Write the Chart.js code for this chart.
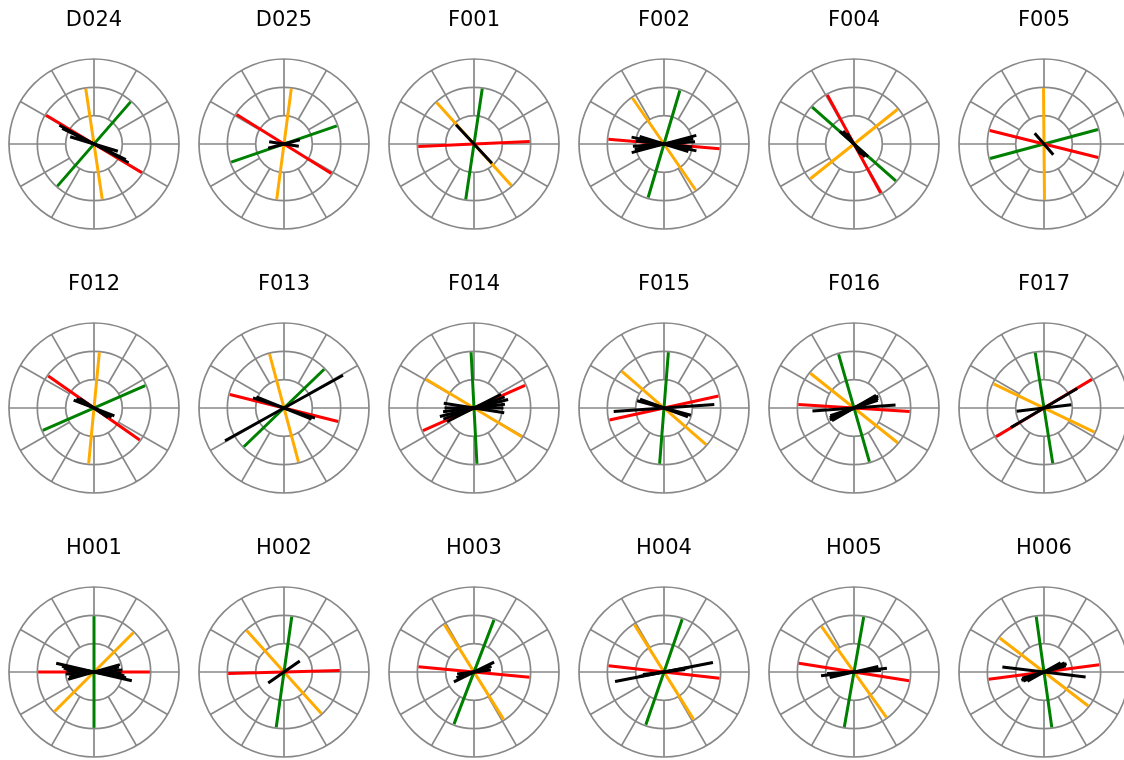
<!DOCTYPE html>
<html>
<head>
<meta charset="utf-8">
<script src="https://cdn.jsdelivr.net/npm/chart.js@4"></script>
<style>
  html, body { margin: 0; padding: 0; background: #ffffff; overflow: hidden; }
  #board { position: relative; width: 1124px; height: 760px; overflow: hidden; }
  #board canvas { position: absolute; }
</style>
</head>
<body>
<div id="board"></div>
<script>
// Station names, one rose diagram each (3 rows x 6 columns)
const stations = ['D024', 'D025', 'F001', 'F002', 'F004', 'F005',
                  'F012', 'F013', 'F014', 'F015', 'F016', 'F017',
                  'H001', 'H002', 'H003', 'H004', 'H005', 'H006'];

// Axial directions, degrees clockwise from north (0-180)
const orangeAzimuth = [171.5, 7.5, 138, 145.5, 51.5, 179.5, 5.5, 165, 121, 131, 128.5, 115.5, 45, 138, 148, 148, 144.5, 127.5];
const greenAzimuth  = [41, 71, 8.5, 16.5, 131.5, 75, 66.5, 46, 177, 4.5, 164, 171, 0, 8, 21, 19, 10, 172];
const redAzimuth    = [121, 122, 87.5, 95, 151.5, 104, 125, 104, 66, 77.5, 93.5, 59, 90, 88.5, 95.5, 96.5, 99, 82.5];
const referenceLength = [1.97, 1.97, 1.97, 1.97, 1.97, 1.97, 1.97, 1.97, 1.97, 1.97, 1.97, 1.97, 1.97, 1.97, 1.97, 1.97, 1.97, 1.97];

// Individual measurements per station: direction and magnitude
const blackAzimuth = [
  [118.5, 116, 107, 112],
  [75, 99],
  [137],
  [75, 80, 86, 96, 102, 107],
  [132, 140, 147],
  [139],
  [111, 118, 124],
  [61, 108, 112],
  [63, 70, 76, 83, 90, 99],
  [86, 105, 110],
  [86, 60, 64, 68, 72],
  [59.5, 83],
  [74, 79, 86, 93, 97, 100, 103],
  [55],
  [64, 72, 78, 83],
  [79, 80, 83],
  [83.5, 77, 87],
  [97, 61, 66, 70, 74]
];
const blackLength = [
  [1.39, 1.25, 0.88, 0.7],
  [0.58, 0.53],
  [0.93],
  [1.18, 1.05, 1.1, 1.0, 1.17, 0.9],
  [0.67, 0.6, 0.45],
  [0.5],
  [0.77, 0.7, 0.6],
  [2.38, 1.15, 1.05],
  [1.07, 1.15, 1.24, 1.1, 1.04, 1.08],
  [1.78, 0.98, 0.9],
  [1.47, 0.9, 0.95, 0.92, 0.88],
  [1.36, 0.97],
  [0.95, 0.9, 1.0, 0.97, 1.08, 1.15, 1.37],
  [0.68],
  [0.79, 0.65, 0.55, 0.6],
  [1.76, 0.9, 0.75],
  [1.17, 0.88, 0.95],
  [1.48, 0.67, 0.8, 0.85, 0.8]
];

// Half-degree angular bins around the full circle
const STEPS = 720;
const angleLabels = Array.from({ length: STEPS }, (_, k) => k / 2);

// An axial line: the same magnitude at the azimuth and at the opposite azimuth
function axialSeries(azimuth, length) {
  const data = new Array(STEPS).fill(null);
  const i = Math.round(azimuth * 2) % STEPS;
  data[i] = length;
  data[(i + STEPS / 2) % STEPS] = length;
  return data;
}

function lineDataset(azimuth, length, colour) {
  return {
    data: axialSeries(azimuth, length),
    borderColor: colour,
    backgroundColor: colour,
    borderWidth: 3,
    borderJoinStyle: 'bevel',
    borderCapStyle: 'butt',
    pointRadius: 0,
    pointHoverRadius: 0,
    fill: false,
    spanGaps: true,
    tension: 0
  };
}

const GRID = '#888888';
const CELL_W = 190, CELL_H = 250;
const rowTop = [0, 264, 528];
const board = document.getElementById('board');

stations.forEach((name, s) => {
  const row = Math.floor(s / 6), col = s % 6;
  const canvas = document.createElement('canvas');
  canvas.width = CELL_W;
  canvas.height = CELL_H;
  canvas.style.left = (col * CELL_W - 1) + 'px';
  canvas.style.top = rowTop[row] + 'px';
  canvas.style.width = CELL_W + 'px';
  canvas.style.height = CELL_H + 'px';
  board.appendChild(canvas);

  const datasets = [];
  blackAzimuth[s].forEach((az, k) => datasets.push(lineDataset(az, blackLength[s][k], '#000000')));
  datasets.push(lineDataset(redAzimuth[s], referenceLength[s], '#ff0000'));
  datasets.push(lineDataset(greenAzimuth[s], referenceLength[s], '#008000'));
  datasets.push(lineDataset(orangeAzimuth[s], referenceLength[s], '#ffab00'));

  new Chart(canvas, {
    type: 'radar',
    data: { labels: angleLabels, datasets },
    options: {
      responsive: false,
      animation: false,
      devicePixelRatio: 1,
      layout: { padding: { top: 0, left: 0, right: 0, bottom: 21 } },
      plugins: {
        legend: { display: false },
        tooltip: { enabled: false },
        title: {
          display: true,
          text: name,
          color: '#000000',
          font: { family: 'DejaVu Sans', size: 21, weight: 'normal', lineHeight: 1.2 },
          padding: { top: 8, bottom: 25.8 }
        }
      },
      scales: {
        r: {
          min: 0,
          max: 3,
          ticks: { display: false, stepSize: 1 },
          pointLabels: { display: false },
          grid: { circular: true, color: GRID, lineWidth: 1.7 },
          angleLines: {
            display: true,
            color: GRID,
            // spokes every 30 degrees, starting at the innermost ring
            lineWidth: (c) => (c.index % 60 === 0 ? 1.7 : 0),
            borderDash: (c) => {
              const inner = c.chart.scales.r.getDistanceFromCenterForValue(1);
              return [0, inner, 400, 0];
            }
          }
        }
      }
    }
  });
});
</script>
</body>
</html>
